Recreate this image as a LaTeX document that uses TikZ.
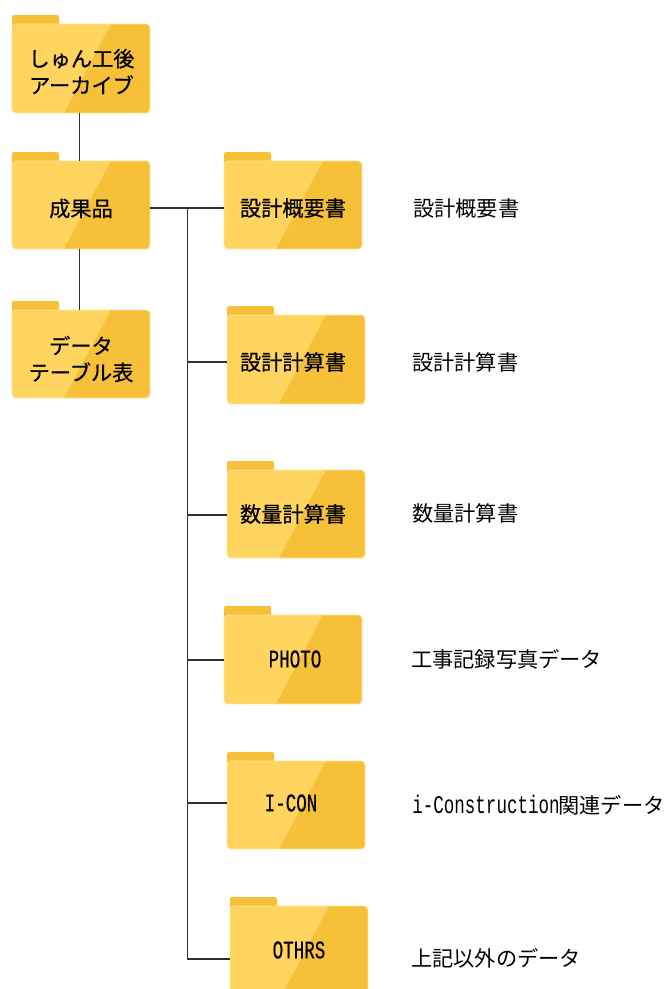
\documentclass[tikz,border=0pt]{standalone}
\usepackage{fontspec}
\setmainfont{Noto Sans CJK JP}
\newfontfamily\latf[FakeStretch=0.69,Scale=1.2]{Liberation Mono}
\newfontfamily\latb[FakeStretch=0.69,Scale=1.2,FakeBold=0.4]{Liberation Mono}
\newfontfamily\boldf[FakeBold=0.5]{Noto Sans CJK JP}
\definecolor{foldlight}{HTML}{FFD45F}
\definecolor{folddark}{HTML}{F6C138}
\definecolor{foldrim}{HTML}{FFE493}
\definecolor{conn}{HTML}{2E2E2E}
\tikzset{
  foldbody/.style={minimum width=103.5pt,minimum height=#1,inner sep=0pt,outer sep=0pt},
  lab/.style={font=\fontsize{15.9pt}{20pt}\selectfont,text=black,inner sep=0pt,align=center},
  foldlab/.style={lab,font=\fontsize{15.9pt}{20pt}\selectfont\boldf},
  side/.style={lab,anchor=west},
  link/.style={draw=conn,line width=0.8pt}
}
% #1 name, #2 left x, #3 tab top y, #4 body height (px), #5 branch y
\newcommand{\foldr}[5]{%
  \fill[folddark,rounded corners=1.5pt] (#2,#3) rectangle ++(47,12);
  \begin{scope}
    \path[clip,rounded corners=3pt] (#2,#3+9) rectangle ++(138,#4);
    \fill[foldlight] (#2,#3+9) rectangle ++(138,#4);
    \fill[folddark] (#2+99,#3+9) -- (#2+138,#3+9) -- (#2+138,#3+9+#4) -- (#2+52,#3+9+#4) -- cycle;
  \end{scope}
  \draw[foldrim,line width=0.5pt,rounded corners=3pt] (#2,#3+9) rectangle ++(138,#4);
  \node[foldbody=#4*0.75pt,anchor=north west] (#1) at (#2,#3+9) {};
  \coordinate (#1-in) at (#2,#5);
}
\begin{document}
\begin{tikzpicture}[x=0.75pt,y=-0.75pt]
\useasboundingbox (0,0) rectangle (666,989);
\clip (0,0) rectangle (666,989);
\fill[white] (0,0) rectangle (666,989);
\foldr{root}{12}{15}{89}{68}
\foldr{mid}{12}{152}{88}{208}
\foldr{tbl}{12}{301}{88}{354}
\foldr{f1}{224}{152}{88}{208}
\foldr{f2}{227}{306}{89}{362}
\foldr{f3}{227}{461}{88}{515}
\foldr{f4}{224}{606}{89}{660}
\foldr{f5}{227}{752}{88}{803}
\foldr{f6}{230}{897}{89}{959}
\coordinate (trunk) at (187.5,208);
\draw[link] ([xshift=-1.1pt]root.south) -- ([xshift=-1.1pt]mid.north);
\draw[link] ([xshift=-1.1pt]mid.south) -- ([xshift=-1.1pt]tbl.north);
\draw[link] (mid.east |- f1-in) -- (f1-in);
\draw[link] (trunk) -- (trunk |- f6-in) -- (f6-in);
\draw[link] (trunk |- f2-in) -- (f2-in);
\draw[link] (trunk |- f3-in) -- (f3-in);
\draw[link] (trunk |- f4-in) -- (f4-in);
\draw[link] (trunk |- f5-in) -- (f5-in);
\node[foldlab] (t0) at (81.5,71.5) {しゅん工後\\アーカイブ};
\node[foldlab] (t1) at (81,208.5) {成果品};
\node[foldlab] (t2) at (81,359) {データ\\テーブル表};
\node[foldlab] (t3) at (293,208) {設計概要書};
\node[foldlab] (t4) at (293,362) {設計計算書};
\node[foldlab] (t5) at (293,514) {数量計算書};
\node[lab] (t6) at (295,659) {\latb PHOTO};
\node[lab] (t7) at (291,803) {\latb I-CON};
\node[lab] (t8) at (299,950) {\latb OTHRS};
\node[side] (s1) at (413,208) {設計概要書};
\node[side] (s2) at (412,362) {設計計算書};
\node[side] (s3) at (412,513) {数量計算書};
\node[side] (s4) at (411,659) {工事記録写真データ};
\node[side] (s5) at (412,805) {{\latf i-Construction}\hspace{-1pt}関連データ};
\node[side] (s6) at (411,958) {上記以外のデータ};
\end{tikzpicture}
\end{document}
